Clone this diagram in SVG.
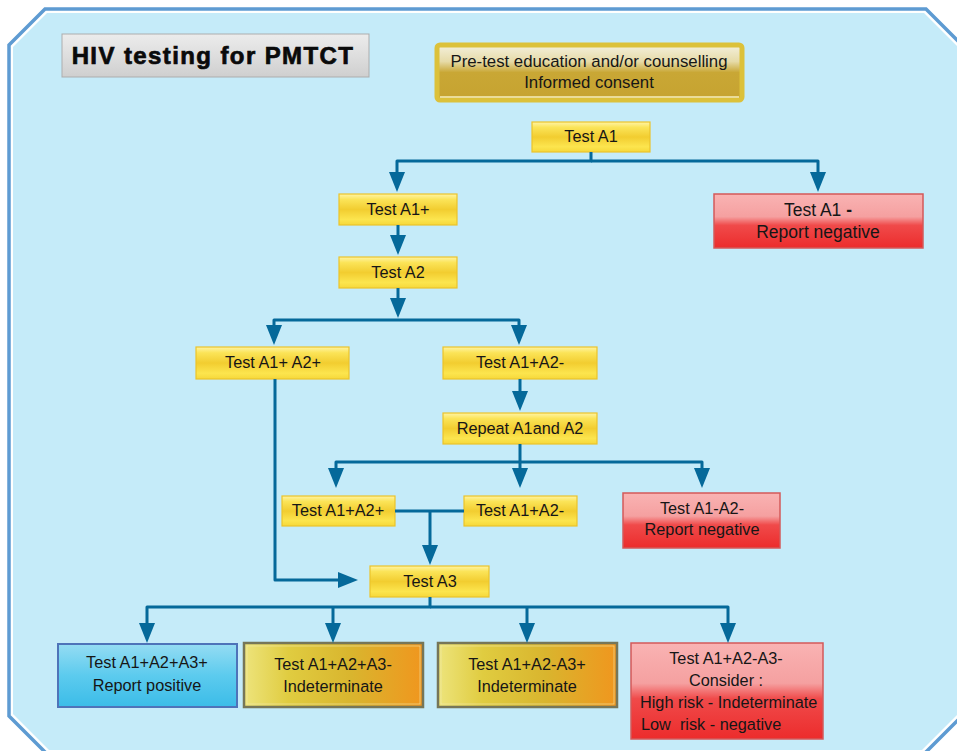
<svg xmlns="http://www.w3.org/2000/svg" width="957" height="751" viewBox="0 0 957 751">
<defs>
<linearGradient id="gY" x1="0" y1="0" x2="0" y2="1">
<stop offset="0" stop-color="#fff4a6"/><stop offset="0.18" stop-color="#fbe458"/><stop offset="0.5" stop-color="#f2cd30"/><stop offset="0.82" stop-color="#fce54e"/><stop offset="1" stop-color="#f6d83a"/>
</linearGradient>
<linearGradient id="gR" x1="0" y1="0" x2="0" y2="1">
<stop offset="0" stop-color="#f9b3b3"/><stop offset="0.42" stop-color="#f5a0a0"/><stop offset="0.58" stop-color="#f04a4a"/><stop offset="1" stop-color="#ec2c2c"/>
</linearGradient>
<linearGradient id="gB" x1="0" y1="0" x2="0" y2="1">
<stop offset="0" stop-color="#95dcf3"/><stop offset="0.5" stop-color="#5ccbee"/><stop offset="1" stop-color="#3bbce8"/>
</linearGradient>
<linearGradient id="gO" x1="0" y1="0" x2="1" y2="0">
<stop offset="0" stop-color="#ede47c"/><stop offset="0.25" stop-color="#e0cc40"/><stop offset="0.6" stop-color="#d9b52e"/><stop offset="1" stop-color="#f0961e"/>
</linearGradient>
<linearGradient id="gG" x1="0" y1="0" x2="0" y2="1">
<stop offset="0" stop-color="#f4f0dc"/><stop offset="0.3" stop-color="#e6dba8"/><stop offset="0.5" stop-color="#c9a735"/><stop offset="1" stop-color="#c6a330"/>
</linearGradient>
<linearGradient id="gT" x1="0" y1="0" x2="0" y2="1">
<stop offset="0" stop-color="#ececec"/><stop offset="0.5" stop-color="#dedede"/><stop offset="1" stop-color="#cfcfcf"/>
</linearGradient>
<marker id="ah" viewBox="0 0 20 16" refX="10" refY="8" markerWidth="20" markerHeight="16" markerUnits="userSpaceOnUse" orient="auto">
<path d="M0,0 L20,8 L0,16 z" fill="#05699a"/>
</marker>
</defs>
<style>
.t{font-family:"Liberation Sans",Arial,sans-serif;font-size:16.3px;fill:#161616;text-anchor:middle}
.y{fill:url(#gY);stroke:#ebc32a;stroke-width:1.2}
.r{fill:url(#gR);stroke:#d35a5a;stroke-width:1.5}
.o{fill:url(#gO);stroke:#767658;stroke-width:2.5}
.c{fill:none;stroke:#05699a;stroke-width:3;stroke-linejoin:round}
.a{marker-end:url(#ah)}
</style>
<polygon points="9,45 45,9 926,9 962,45 962,716 924,754 47,754 9,716" fill="#ffffff" stroke="#5e9bd2" stroke-width="3.5"/>
<polygon points="13,47 47,13 924,13 958,47 958,714 922,750 49,750 13,714" fill="#c5ebf9"/>

<g id="title">
<rect x="62" y="34" width="307" height="43" fill="url(#gT)" stroke="#adadad" stroke-width="1"/>
<text x="213" y="64" style="font-family:'Liberation Sans',Arial,sans-serif;font-size:24px;font-weight:bold;letter-spacing:1.4px;fill:#0a0a0a;stroke:#0a0a0a;stroke-width:0.7px;text-anchor:middle">HIV testing for PMTCT</text>
</g>

<g id="pretest">
<rect x="437" y="45" width="305" height="55" rx="3" fill="url(#gG)" stroke="#dcc13a" stroke-width="5"/>
<rect x="440" y="96" width="299" height="2" fill="#eadc98"/>
<text class="t" x="589" y="67" style="font-size:16.8px">Pre-test education and/or counselling</text>
<text class="t" x="589" y="88" style="font-size:16.8px">Informed consent</text>
</g>

<g id="testA1"><rect class="y" x="532" y="122" width="118" height="30"/><text class="t" x="591" y="142">Test A1</text></g>
<g id="testA1pos"><rect class="y" x="339" y="194" width="118" height="31"/><text class="t" x="398" y="215">Test A1+</text></g>
<g id="testA1neg"><rect class="r" x="714" y="194" width="209" height="54"/><text class="t" x="818" y="216" style="font-size:17.5px">Test A1 <tspan font-weight="bold">-</tspan></text><text class="t" x="818" y="238" style="font-size:17.5px">Report negative</text></g>
<g id="testA2"><rect class="y" x="339" y="257" width="118" height="31"/><text class="t" x="398" y="278">Test A2</text></g>
<g id="testA1pA2p"><rect class="y" x="196" y="347" width="153" height="32"/><text class="t" x="273" y="368">Test A1+ A2+</text></g>
<g id="testA1pA2n"><rect class="y" x="443" y="347" width="154" height="32"/><text class="t" x="520" y="368">Test A1+A2-</text></g>
<g id="repeat"><rect class="y" x="443" y="413" width="154" height="31"/><text class="t" x="520" y="434">Repeat A1and A2</text></g>
<g id="rA1pA2p"><rect class="y" x="282" y="496" width="113" height="30"/><text class="t" x="338" y="516">Test A1+A2+</text></g>
<g id="rA1pA2n"><rect class="y" x="464" y="496" width="113" height="30"/><text class="t" x="520" y="516">Test A1+A2-</text></g>
<g id="rA1nA2n"><rect class="r" x="623" y="493" width="157" height="55"/><text class="t" x="702" y="514">Test A1-A2-</text><text class="t" x="702" y="535">Report negative</text></g>
<g id="testA3"><rect class="y" x="370" y="566" width="119" height="31"/><text class="t" x="430" y="587">Test A3</text></g>

<g id="res1"><rect x="58" y="644" width="179" height="63" fill="url(#gB)" stroke="#4e73b9" stroke-width="2"/><text class="t" x="147" y="668">Test A1+A2+A3+</text><text class="t" x="147" y="691">Report positive</text></g>
<g id="res2"><rect class="o" x="244" y="643" width="179" height="64"/><rect x="247" y="646" width="173" height="58" fill="none" stroke="#f3ecb0" stroke-width="0.8" opacity="0.7"/><text class="t" x="333" y="670">Test A1+A2+A3-</text><text class="t" x="333" y="692">Indeterminate</text></g>
<g id="res3"><rect class="o" x="438" y="643" width="179" height="64"/><rect x="441" y="646" width="173" height="58" fill="none" stroke="#f3ecb0" stroke-width="0.8" opacity="0.7"/><text class="t" x="527" y="670">Test A1+A2-A3+</text><text class="t" x="527" y="692">Indeterminate</text></g>
<g id="res4"><rect class="r" x="631" y="643" width="192" height="96"/>
<text class="t" x="726" y="664">Test A1+A2-A3-</text>
<text class="t" x="726" y="686">Consider :</text>
<text class="t" x="640" y="708" style="text-anchor:start">High risk - Indeterminate</text>
<text class="t" x="641" y="730" style="text-anchor:start;white-space:pre">Low  risk - negative</text>
</g>

<g id="connectors">
<path class="c a" d="M591,152 V161 H397 V182"/>
<path class="c a" d="M591,161 H818 V182"/>
<path class="c a" d="M398,225 V245"/>
<path class="c a" d="M398,288 V308"/>
<path class="c a" d="M398,320 H274 V335"/>
<path class="c a" d="M398,320 H519 V335"/>
<path class="c a" d="M520,379 V401"/>
<path class="c a" d="M520,444 V478"/>
<path class="c a" d="M520,462 H336 V478"/>
<path class="c a" d="M520,462 H702 V478"/>
<path class="c" d="M395,511 H464"/>
<path class="c a" d="M430,511 V555"/>
<path class="c a" d="M275,379 V580 H348"/>
<path class="c a" d="M430,597 V607 H147 V633"/>
<path class="c a" d="M430,607 H728 V633"/>
<path class="c a" d="M333,607 V633"/>
<path class="c a" d="M527,607 V633"/>
</g>
</svg>
